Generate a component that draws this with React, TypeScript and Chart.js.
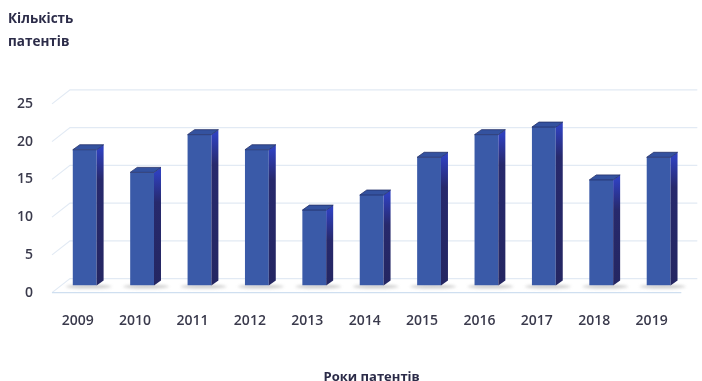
import React, { useEffect, useRef } from 'react';
import { Chart, registerables } from 'chart.js';

Chart.register(...registerables);

const years = ['2009', '2010', '2011', '2012', '2013', '2014', '2015', '2016', '2017', '2018', '2019'];
const patents = [18, 15, 20, 18, 10, 12, 17, 20, 21, 14, 17];
const yTickValues = [0, 5, 10, 15, 20, 25];
const titleLines = ['Кількість', 'патентів'];
const xTitle = 'Роки патентів';

const FONT = '"Open Sans", "Noto Sans", sans-serif';

const depthPlugin = {
  id: 'depth3d',
  beforeDatasetsDraw(chart: any) {
    const { ctx, chartArea: a, scales } = chart;
    const y = scales.y;
    ctx.save();
    ctx.lineWidth = 1.2;
    ctx.strokeStyle = '#e2eaf4';
    yTickValues.forEach((v) => {
      const py = y.getPixelForValue(v);
      ctx.beginPath();
      ctx.moveTo(a.left - 4, py + 7);
      ctx.lineTo(a.left + 14, py - 7);
      ctx.lineTo(a.right + 10, py - 7);
      ctx.stroke();
    });
    // floor front edge
    const p0 = y.getPixelForValue(0);
    ctx.strokeStyle = '#cfdff0';
    ctx.lineWidth = 1.4;
    ctx.beginPath();
    ctx.moveTo(a.left - 4, p0 + 7);
    ctx.lineTo(a.right - 6, p0 + 7);
    ctx.stroke();
    // shadows
    const meta = chart.getDatasetMeta(0);
    ctx.filter = 'blur(1.5px)';
    ctx.fillStyle = 'rgba(130,130,130,0.4)';
    meta.data.forEach((bar: any) => {
      const { x, base, width } = bar.getProps(['x', 'base', 'width'], true);
      ctx.beginPath();
      ctx.ellipse(x + 4, base + 1, width / 2 + 11, 2, 0, 0, Math.PI * 2);
      ctx.fill();
    });
    ctx.filter = 'none';
    ctx.restore();
  },
  afterDatasetsDraw(chart: any) {
    const { ctx } = chart;
    const meta = chart.getDatasetMeta(0);
    const dx = 7;
    const dy = -5;
    ctx.save();
    meta.data.forEach((bar: any) => {
      const { x, y, base, width } = bar.getProps(['x', 'y', 'base', 'width'], true);
      const l = x - width / 2;
      const r = x + width / 2;
      // side face
      const g = ctx.createLinearGradient(0, y, 0, base);
      g.addColorStop(0, '#2f40bd');
      g.addColorStop(Math.min(1, 30 / Math.max(1, base - y)), '#27296c');
      g.addColorStop(1, '#242662');
      ctx.fillStyle = g;
      ctx.beginPath();
      ctx.moveTo(r, y);
      ctx.lineTo(r + dx, y + dy);
      ctx.lineTo(r + dx, base + dy);
      ctx.lineTo(r, base);
      ctx.closePath();
      ctx.fill();
      // top face
      ctx.fillStyle = '#34529f';
      ctx.strokeStyle = '#23306a';
      ctx.lineWidth = 0.8;
      ctx.beginPath();
      ctx.moveTo(l, y);
      ctx.lineTo(r, y);
      ctx.lineTo(r + dx, y + dy);
      ctx.lineTo(l + dx, y + dy);
      ctx.closePath();
      ctx.fill();
      ctx.stroke();
    });
    ctx.restore();
  },
};

export default function App() {
  const ref = useRef<HTMLCanvasElement | null>(null);

  useEffect(() => {
    if (!ref.current) return;
    const chart = new Chart(ref.current, {
      type: 'bar',
      data: {
        labels: years,
        datasets: [
          {
            data: patents,
            backgroundColor: '#3a5aa8',
            borderWidth: 0,
            barPercentage: 0.83,
            categoryPercentage: 0.5,
          },
        ],
      },
      options: {
        responsive: false,
        animation: false,
        maintainAspectRatio: false,
        layout: { padding: { left: 8, right: 8, top: 0, bottom: -4 } },
        plugins: {
          legend: { display: false },
          tooltip: { enabled: false },
          title: {
            display: true,
            text: titleLines,
            align: 'start',
            color: '#2b2b48',
            font: { family: FONT, size: 13.5, weight: 'bold', lineHeight: 1.7 },
            padding: { top: 8, bottom: 43 },
          },
        },
        scales: {
          x: {
            grid: { display: false, drawTicks: false },
            border: { display: false },
            ticks: {
              color: '#3a3a4c',
              font: { family: FONT, size: 14, weight: 600 },
              padding: 27,
              labelOffset: -7,
              maxRotation: 0,
            },
            title: {
              display: true,
              text: xTitle,
              color: '#2b2b48',
              font: { family: FONT, size: 13, weight: 'bold' },
              padding: { top: 13, bottom: 0 },
            },
          },
          y: {
            min: 0,
            max: 25,
            grid: { display: false, drawTicks: false },
            border: { display: false },
            afterFit(scale: any) {
              scale.width = 48;
            },
            afterBuildTicks(scale: any) {
              scale.ticks = yTickValues.map((v) => ({ value: v }));
            },
            ticks: {
              color: '#3a3a4c',
              font: { family: FONT, size: 14, weight: 600 },
              padding: 23,
              labelOffset: 7,
            },
          },
        },
      },
      plugins: [depthPlugin],
    });
    return () => chart.destroy();
  }, []);

  return (
    <div style={{ position: 'fixed', left: 0, top: 0, width: 702, height: 381, background: '#fff' }}>
      <canvas ref={ref} width={702} height={381} style={{ display: 'block', width: 702, height: 381 }} />
    </div>
  );
}
